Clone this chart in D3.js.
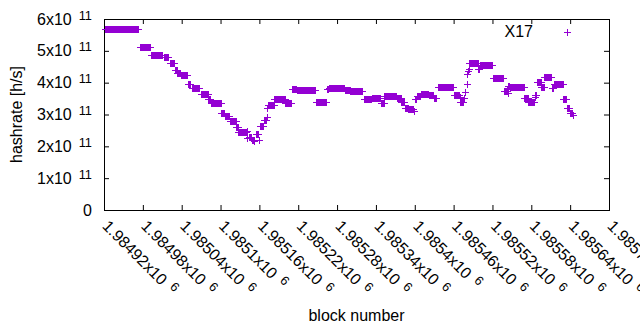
<!DOCTYPE html>
<html>
<head>
<meta charset="utf-8">
<script src="https://cdn.jsdelivr.net/npm/d3@7"></script>
<style>
  body { margin: 0; background: #fff; }
  text { font-family: "Liberation Sans", Arial, sans-serif; font-size: 16px; fill: #000; }
</style>
</head>
<body>
<div id="chart"></div>
<script>
// hashrate estimate per block, stored as runs of blocks sharing one value
// block numbers are offsets from blockBase, rates are in units of 1e11 h/s
const blockBase = 1984920;
const runFirst = [3, 56, 74, 93, 102, 111, 114, 119, 130, 136, 150, 162, 166, 182, 187, 196, 205, 208,
  221, 222, 224, 229, 233, 235, 240, 242, 248, 252, 253, 254, 264, 281, 291, 299, 328, 345, 348,
  373, 381, 402, 414, 428, 434, 445, 453, 460, 466, 471, 479, 481, 484, 490, 502, 510, 516, 541,
  550, 551, 557, 559, 561, 562, 563, 564, 565, 579, 582, 601, 618, 624, 625, 628, 650, 656, 666,
  667, 670, 676, 681, 692, 696, 710, 716, 720, 725];
const runLast = [54, 72, 91, 100, 109, 113, 118, 129, 134, 148, 161, 164, 181, 186, 194, 204, 207, 220,
  221, 222, 228, 232, 233, 239, 240, 247, 251, 252, 253, 263, 280, 290, 298, 326, 343, 347, 372,
  380, 400, 413, 427, 433, 444, 452, 459, 464, 470, 478, 479, 483, 489, 501, 509, 514, 540, 549,
  550, 556, 557, 559, 561, 562, 563, 564, 578, 580, 600, 617, 623, 624, 627, 649, 655, 665, 666,
  668, 675, 680, 691, 695, 709, 715, 719, 724, 725];
const runRate = [5.68, 5.12, 4.84, 4.78, 4.59, 4.38, 4.30, 4.24, 3.94, 3.83, 3.64, 3.46, 3.36, 3.03, 2.93, 2.77, 2.59, 2.45,
  2.24, 2.47, 2.29, 2.19, 2.14, 2.37, 2.18, 2.63, 2.80, 2.90, 3.20, 3.28, 3.46, 3.35, 3.80, 3.76, 3.39, 3.80, 3.83,
  3.74, 3.71, 3.47, 3.49, 3.33, 3.55, 3.58, 3.49, 3.38, 3.20, 3.15, 3.10, 3.48, 3.57, 3.62, 3.59, 3.51, 3.86, 3.61,
  3.52, 3.39, 3.49, 3.69, 3.93, 4.25, 4.35, 4.42, 4.60, 4.41, 4.54, 4.12, 3.73, 3.65, 3.88, 3.86, 3.49, 3.39, 3.52,
  3.59, 4.01, 3.86, 4.15, 3.83, 3.94, 3.47, 3.20, 3.03, 2.97];

const seriesName = 'X17';
const xTickLabels = ['1.98492', '1.98498', '1.98504', '1.9851', '1.98516', '1.98522', '1.98528',
  '1.98534', '1.9854', '1.98546', '1.98552', '1.98558', '1.98564', '1.9857'];
const xTickExp = 6;
const yTickLabels = ['0', '1', '2', '3', '4', '5', '6'];
const yTickExp = 11;

const width = 640;
const height = 330;
const margin = { top: 19, right: 31, bottom: 120, left: 104 };
const color = '#9400d3';

// one point per block
const points = [];
runFirst.forEach((f, i) => {
    for (let b = f; b <= runLast[i]; b++) {
        points.push({ block: blockBase + b, rate: runRate[i] * 1e11 });
    }
});

const xTicks = xTickLabels.map(s => Math.round(+s * Math.pow(10, xTickExp)));
const yTicks = yTickLabels.map(s => +s * Math.pow(10, yTickExp));

const svg = d3.select('#chart').append('svg')
    .attr('width', width)
    .attr('height', height);

const x = d3.scaleLinear()
    .domain([xTicks[0], xTicks[xTicks.length - 1]])
    .range([margin.left, width - margin.right]);

const y = d3.scaleLinear()
    .domain([yTicks[0], yTicks[yTicks.length - 1]])
    .range([height - margin.bottom, margin.top]);

// inward ticks on all four sides (gnuplot style)
const tick = 5;
const noDomain = g => g.select('.domain').remove();
svg.append('g')
    .attr('transform', `translate(0,${height - margin.bottom})`)
    .call(d3.axisBottom(x).tickValues(xTicks).tickSize(-tick).tickFormat(''))
    .call(noDomain);
svg.append('g')
    .attr('transform', `translate(0,${margin.top})`)
    .call(d3.axisTop(x).tickValues(xTicks).tickSize(-tick).tickFormat(''))
    .call(noDomain);
svg.append('g')
    .attr('transform', `translate(${margin.left},0)`)
    .call(d3.axisLeft(y).tickValues(yTicks).tickSize(-tick).tickFormat(''))
    .call(noDomain);
svg.append('g')
    .attr('transform', `translate(${width - margin.right},0)`)
    .call(d3.axisRight(y).tickValues(yTicks).tickSize(-tick).tickFormat(''))
    .call(noDomain);
svg.selectAll('.tick line').attr('stroke', '#000');

// border
svg.append('rect')
    .attr('x', margin.left + 0.5)
    .attr('y', margin.top + 0.5)
    .attr('width', width - margin.left - margin.right)
    .attr('height', height - margin.top - margin.bottom)
    .attr('fill', 'none')
    .attr('stroke', '#000');

// y tick labels "Nx10^11"
svg.selectAll('.ytick-label')
    .data(yTicks)
    .enter().append('text')
    .attr('class', 'ytick-label')
    .attr('x', 92)
    .attr('y', d => y(d) + 5.5)
    .attr('text-anchor', 'end')
    .each(function(d, i) {
        const t = d3.select(this);
        if (d === 0) { t.text(yTickLabels[i]); return; }
        t.append('tspan').text(yTickLabels[i] + 'x10');
        t.append('tspan').attr('dx', 7).attr('dy', -5).style('font-size', '12.8px').text(yTickExp);
    });

// x tick labels, rotated
svg.selectAll('.xtick-label')
    .data(xTicks)
    .enter().append('text')
    .attr('class', 'xtick-label')
    .attr('transform', d => `translate(${x(d) - 2.5},227) rotate(45)`)
    .each(function(d, i) {
        const t = d3.select(this);
        t.append('tspan').text(xTickLabels[i] + 'x10');
        t.append('tspan').attr('dx', 7).attr('dy', -5).style('font-size', '12.8px').text(xTickExp);
    });

// axis titles
svg.append('text')
    .attr('transform', `translate(22,${(margin.top + height - margin.bottom) / 2}) rotate(-90)`)
    .attr('text-anchor', 'middle')
    .text('hashrate [h/s]');

svg.append('text')
    .attr('x', (margin.left + width - margin.right) / 2)
    .attr('y', 321)
    .attr('text-anchor', 'middle')
    .text('block number');

// points as "+" markers
const plus = 'M-3.5,0H3.5M0,-3.5V3.5';
svg.append('g')
    .attr('stroke', color)
    .attr('fill', 'none')
    .attr('shape-rendering', 'crispEdges')
    .selectAll('path')
    .data(points)
    .enter().append('path')
    .attr('transform', d => `translate(${x(d.block)},${y(d.rate)})`)
    .attr('d', plus);

// legend
svg.append('text')
    .attr('x', 533)
    .attr('y', 37)
    .attr('text-anchor', 'end')
    .text(seriesName);
svg.append('path')
    .attr('transform', 'translate(567.5,32.5)')
    .attr('d', plus)
    .attr('stroke', color)
    .attr('shape-rendering', 'crispEdges');
</script>
</body>
</html>
